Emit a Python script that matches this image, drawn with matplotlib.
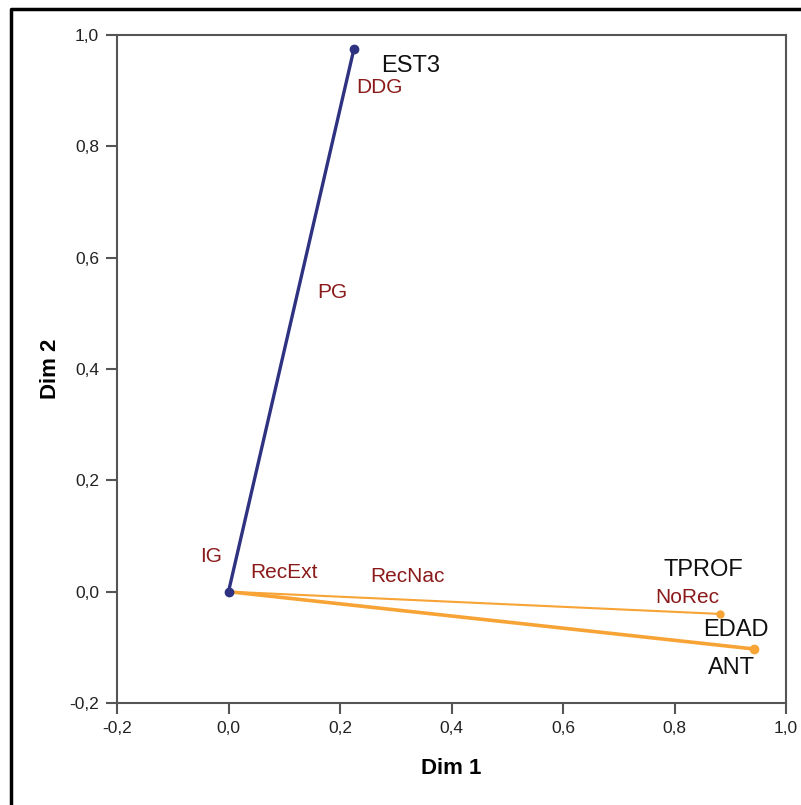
import matplotlib
matplotlib.use("Agg")
import matplotlib.pyplot as plt
from matplotlib.lines import Line2D

plt.rcParams['font.family'] = ['Liberation Sans', 'DejaVu Sans']

# vectors (from origin)
vec_names = ["EST3", "NoRec", "ANT"]
vec_x = [0.225, 0.882, 0.943]
vec_y = [0.975, -0.040, -0.103]
vec_colors = ["#2e3280", "#f7a335", "#f7a335"]
vec_widths = [2.4, 1.5, 2.6]

# variable labels (black)
var_labels = ["EST3", "TPROF", "EDAD", "ANT"]
var_lx = [0.273, 0.781, 0.851, 0.860]
var_ly = [0.944, 0.039, -0.069, -0.137]

# category labels (dark red)
cat_labels = ["DDG", "PG", "IG", "RecExt", "RecNac", "NoRec"]
cat_lx = [0.229, 0.159, -0.051, 0.039, 0.254, 0.765]
cat_ly = [0.905, 0.538, 0.064, 0.034, 0.028, -0.011]

ticks = [-0.2, 0.0, 0.2, 0.4, 0.6, 0.8, 1.0]
tick_labels = ["-0,2", "0,0", "0,2", "0,4", "0,6", "0,8", "1,0"]

fig = plt.figure(figsize=(8.01, 8.05), dpi=100)
ax = fig.add_axes([117/801, 1 - 703/805, (786-117)/801, (703-35)/805])

for x, y, c, w in zip(vec_x, vec_y, vec_colors, vec_widths):
    ax.plot([0, x], [0, y], color=c, lw=w, solid_capstyle='round', zorder=2)
    ax.plot([x], [y], 'o', color=c, ms=6 if w > 2 else 5, zorder=3)
ax.plot([0], [0], 'o', color=vec_colors[0], ms=6, zorder=4)

for t, x, y in zip(var_labels, var_lx, var_ly):
    ax.text(x, y, t, color="#111111", fontsize=17, ha='left', va='center')
for t, x, y in zip(cat_labels, cat_lx, cat_ly):
    ax.text(x, y, t, color="#8b1a1a", fontsize=15, ha='left', va='center')

ax.set_xlim(-0.2, 1.0)
ax.set_ylim(-0.2, 1.0)
ax.set_xticks(ticks)
ax.set_xticklabels(tick_labels)
ax.set_yticks(ticks)
ax.set_yticklabels(tick_labels)
for s in ax.spines.values():
    s.set_color("#555555")
    s.set_linewidth(1.5)
ax.tick_params(direction='out', length=8, width=1.5, color="#555555",
               labelsize=12.5, labelcolor="#222222", pad=5)
ax.set_xlabel("Dim 1", fontsize=16, fontweight='bold', labelpad=16)
ax.set_ylabel("Dim 2", fontsize=16, fontweight='bold', labelpad=6)

fig.add_artist(Line2D([11/801, 11/801, 1.0], [0.0, 1 - 9/805, 1 - 9/805],
                      transform=fig.transFigure, color='black', lw=2.5))

fig.savefig("out.png", dpi=100)
